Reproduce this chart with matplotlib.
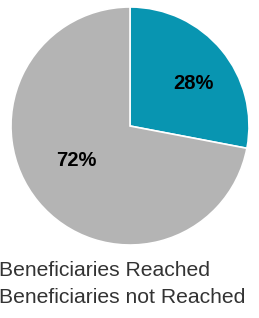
import matplotlib
matplotlib.use("Agg")
import matplotlib.pyplot as plt

# Donnees du graphique
labels = ["Beneficiaries Reached", "Beneficiaries not Reached"]
values = [28, 72]
colors = ["#0895B1", "#B4B4B4"]

plt.rcParams["font.family"] = ["Liberation Sans", "DejaVu Sans"]

fig = plt.figure(figsize=(2.59, 3.18), dpi=100)
W, H = 259, 318
ax = fig.add_axes([11 / W, (H - 245) / H, 238 / W, 238 / H])

wedges, texts, autotexts = ax.pie(
    values, colors=colors, startangle=90, counterclock=False,
    autopct=lambda p: "%d%%" % round(p), pctdistance=0.62,
    wedgeprops={"edgecolor": "white", "linewidth": 1.2},
    textprops={"fontsize": 14.5, "fontweight": "bold", "color": "black"},
)
# Emplacement des etiquettes comme dans l'original
autotexts[0].set_position((0.53, 0.36))
autotexts[1].set_position((-0.45, -0.29))
ax.set_xlim(-1, 1)
ax.set_ylim(-1, 1)
ax.set_aspect("equal")

# Legende sans marqueurs visibles (coupee a gauche)
handles = [plt.Rectangle((0, 0), 0, 0, alpha=0) for _ in labels]
fig.legend(handles, labels, loc="upper left", bbox_to_anchor=(-0.005, 1 - 261 / H),
           frameon=False, handlelength=0, handletextpad=0, borderpad=0,
           borderaxespad=0, labelspacing=0.4, fontsize=15.2, labelcolor="#333333")

fig.savefig("out.png", dpi=100)
